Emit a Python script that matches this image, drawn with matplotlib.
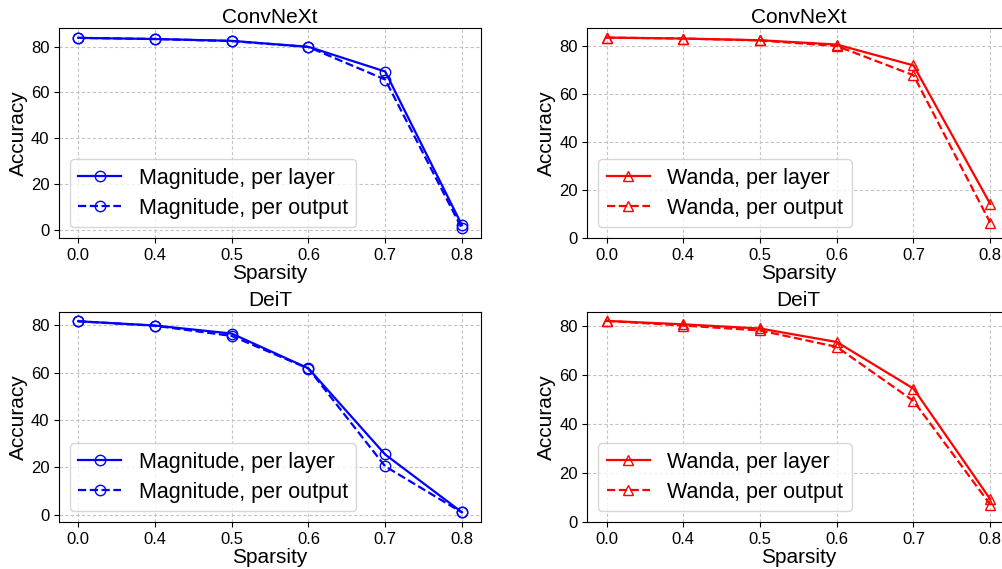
import matplotlib
matplotlib.use("Agg")
import matplotlib.pyplot as plt

plt.rcParams['font.family'] = ['Liberation Sans', 'DejaVu Sans']

sparsity = ['0.0', '0.4', '0.5', '0.6', '0.7', '0.8']

# ConvNeXt
convnext_mag_layer = [83.8, 83.3, 82.5, 79.9, 69.1, 2.0]
convnext_mag_output = [83.8, 83.3, 82.4, 79.8, 65.6, 0.5]
convnext_wanda_layer = [83.6, 83.2, 82.5, 80.7, 72.0, 14.2]
convnext_wanda_output = [83.6, 83.2, 82.4, 80.1, 67.9, 6.4]

# DeiT
deit_mag_layer = [81.7, 79.9, 76.5, 61.8, 25.4, 1.0]
deit_mag_output = [81.7, 79.8, 75.5, 61.7, 20.4, 0.9]
deit_wanda_layer = [81.9, 80.5, 78.8, 73.3, 54.3, 9.3]
deit_wanda_output = [81.9, 80.0, 78.0, 71.3, 49.3, 7.1]

fig = plt.figure(figsize=(10.02, 5.69), dpi=100)

# axes placed by hand, right column runs a bit past the figure edge
w = 0.4212
ax_tl = fig.add_axes([0.0589, 0.5817, w, 0.3685])
ax_tr = fig.add_axes([0.5862, 0.5817, w, 0.3685])
ax_bl = fig.add_axes([0.0589, 0.0826, w, 0.3696])
ax_br = fig.add_axes([0.5862, 0.0826, w, 0.3696])

x = list(range(len(sparsity)))


def draw(ax, layer, output, name, color, marker, title, zero_bottom):
    ax.plot(x, layer, '-', color=color, marker=marker, mfc='none', ms=7.5, lw=1.6,
            label=name + ', per layer')
    ax.plot(x, output, '--', color=color, marker=marker, mfc='none', ms=7.5, lw=1.6,
            label=name + ', per output')
    ax.set_xticks(x)
    ax.set_xticklabels(sparsity)
    ax.set_title(title, fontsize=15, pad=4)
    ax.set_xlabel('Sparsity', fontsize=15, labelpad=1)
    ax.set_ylabel('Accuracy', fontsize=15, labelpad=2)
    ax.tick_params(labelsize=12)
    ax.set_yticks([0, 20, 40, 60, 80])
    ax.grid(True, linestyle=(0, (3, 2)), color='#c4c4c4', lw=0.8)
    if zero_bottom:
        ax.set_ylim(bottom=0)
    ax.legend(loc='lower left', fontsize=15.5, labelspacing=0.4)


draw(ax_tl, convnext_mag_layer, convnext_mag_output, 'Magnitude', 'blue', 'o', 'ConvNeXt', False)
draw(ax_tr, convnext_wanda_layer, convnext_wanda_output, 'Wanda', 'red', '^', 'ConvNeXt', True)
draw(ax_bl, deit_mag_layer, deit_mag_output, 'Magnitude', 'blue', 'o', 'DeiT', False)
draw(ax_br, deit_wanda_layer, deit_wanda_output, 'Wanda', 'red', '^', 'DeiT', True)

fig.savefig('out.png', dpi=100)
